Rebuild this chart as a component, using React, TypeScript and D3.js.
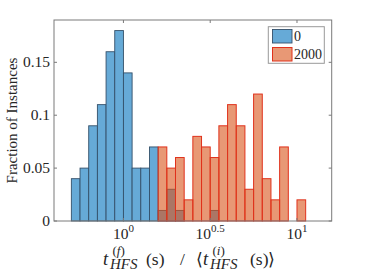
import React from "react";
import * as d3 from "d3";

// log10 bin start for the first bin and bin width (log10 units)
const binStart = -0.3;
const binWidth = 0.05;

// Series "0": bins 0..16
const blueBinIndex = [0, 1, 2, 3, 4, 5, 6, 7, 8, 9, 10, 11, 12, 13, 14, 15, 16];
const blueValues = [0.04, 0.05, 0.09, 0.11, 0.16, 0.18, 0.14, 0.05, 0.05, 0.07, 0.01, 0.03, 0.01, 0, 0, 0, 0.01];

// Series "2000": bins 10..26
const redBinIndex = [10, 11, 12, 13, 14, 15, 16, 17, 18, 19, 20, 21, 22, 23, 24, 25, 26];
const redValues = [0.07, 0.05, 0.06, 0.02, 0.08, 0.07, 0.06, 0.09, 0.11, 0.09, 0.03, 0.12, 0.04, 0.02, 0.07, 0, 0.02];

const yTicks = [0, 0.05, 0.1, 0.15];
const yTickLabels = ["0", "0.05", "0.1", "0.15"];
const xTickExps = [0, 0.5, 1];
const xTickExpLabels = ["0", "0.5", "1"];
const legendLabels = ["0", "2000"];

const W = 366;
const H = 274;
const L = 54, R = 331.7, T = 20, B = 221;
const FONT = "'Liberation Serif', 'DejaVu Serif', serif";

export default function App() {
  const x = d3.scaleLog().domain([Math.pow(10, -0.4), Math.pow(10, 1.2)]).range([L, R]);
  const y = d3.scaleLinear().domain([0, 0.19]).range([B, T]);
  const edge = (i: number) => x(Math.pow(10, binStart + i * binWidth));
  const axisColor = "#7a7a7a";
  const tl = 3;

  const blueFill = "rgb(102,170,215)";
  const blueEdge = "#34506a";
  const redFill = "rgb(217,83,25)";
  const redEdge = "#e0321c";
  const txt = "#262626";

  const mainFs = 17.5;
  const supFs = 13;
  const subFs = 15;
  const base = 265;
  const supBase = 254.5;
  const subBase = 269;

  return (
    <svg width={W} height={H} style={{ position: "absolute", left: 0, top: 0, background: "#fff" }} fontFamily={FONT}>
      <rect x={0} y={0} width={W} height={H} fill="#fff" />
      {/* blue bars */}
      {blueBinIndex.map((bi, k) => (
        <rect key={"b" + k} x={edge(bi)} y={y(blueValues[k])} width={edge(bi + 1) - edge(bi)} height={B - y(blueValues[k])}
          fill={blueFill} stroke={blueEdge} strokeWidth={0.9} />
      ))}
      {/* red bars */}
      {redBinIndex.map((bi, k) => (
        <g key={"r" + k}>
          <rect x={edge(bi)} y={y(redValues[k])} width={edge(bi + 1) - edge(bi)} height={B - y(redValues[k])}
            fill={redFill} fillOpacity={0.6} stroke="none" />
          <rect x={edge(bi)} y={y(redValues[k])} width={edge(bi + 1) - edge(bi)} height={B - y(redValues[k])}
            fill="none" stroke={redEdge} strokeWidth={1} />
        </g>
      ))}
      {/* axes box */}
      <rect x={L} y={T} width={R - L} height={B - T} fill="none" stroke={axisColor} strokeWidth={1} />
      {yTicks.map((t, i) => (
        <g key={"yt" + i}>
          <line x1={L} x2={L + tl} y1={y(t)} y2={y(t)} stroke={axisColor} />
          <line x1={R} x2={R - tl} y1={y(t)} y2={y(t)} stroke={axisColor} />
          <text x={L - 4} y={y(t) + 5} textAnchor="end" fontSize={15.5} fill={txt}>{yTickLabels[i]}</text>
        </g>
      ))}
      {xTickExps.map((e, i) => {
        const px = x(Math.pow(10, e));
        return (
          <g key={"xt" + i}>
            <line x1={px} x2={px} y1={B} y2={B - tl} stroke={axisColor} />
            <line x1={px} x2={px} y1={T} y2={T + tl} stroke={axisColor} />
            <text x={px} y={238.5} textAnchor="middle" fontSize={15.5} fill={txt}>
              10<tspan dy={-6.5} fontSize={11}>{xTickExpLabels[i]}</tspan>
            </text>
          </g>
        );
      })}
      {/* y label */}
      <text transform={`translate(17,${(T + B) / 2}) rotate(-90)`} textAnchor="middle" fontSize={15} fill={txt}>Fraction of Instances</text>
      {/* x label */}
      <g fill={txt}>
        <text x={103} y={base} fontSize={mainFs + 1} fontStyle="italic">t</text>
        <text x={112.5} y={supBase} fontSize={supFs}>(<tspan fontStyle="italic">f</tspan>)</text>
        <text x={110} y={subBase} fontSize={subFs} fontStyle="italic">HFS</text>
        <text x={146} y={base} fontSize={mainFs}>(s)</text>
        <text x={180} y={base} fontSize={mainFs}>/</text>
        <text x={196} y={base} fontSize={mainFs}>{"\u27E8"}</text>
        <text x={203} y={base} fontSize={mainFs + 1} fontStyle="italic">t</text>
        <text x={212.5} y={supBase} fontSize={supFs}>(<tspan fontStyle="italic">i</tspan>)</text>
        <text x={210} y={subBase} fontSize={subFs} fontStyle="italic">HFS</text>
        <text x={250} y={base} fontSize={mainFs}>(s)</text>
        <text x={268} y={base} fontSize={mainFs}>{"\u27E9"}</text>
      </g>
      {/* legend */}
      <rect x={268.3} y={26.7} width={56} height={36.6} fill="#fff" stroke="#999" strokeWidth={1} />
      <rect x={272.5} y={29.5} width={19.5} height={13.5} fill={blueFill} stroke={blueEdge} strokeWidth={0.9} />
      <rect x={272.5} y={47.5} width={19.5} height={13.5} fill={redFill} fillOpacity={0.6} stroke={redEdge} strokeWidth={1} />
      <text x={294} y={41} fontSize={14} fill={txt}>{legendLabels[0]}</text>
      <text x={294} y={59} fontSize={14} fill={txt}>{legendLabels[1]}</text>
    </svg>
  );
}
